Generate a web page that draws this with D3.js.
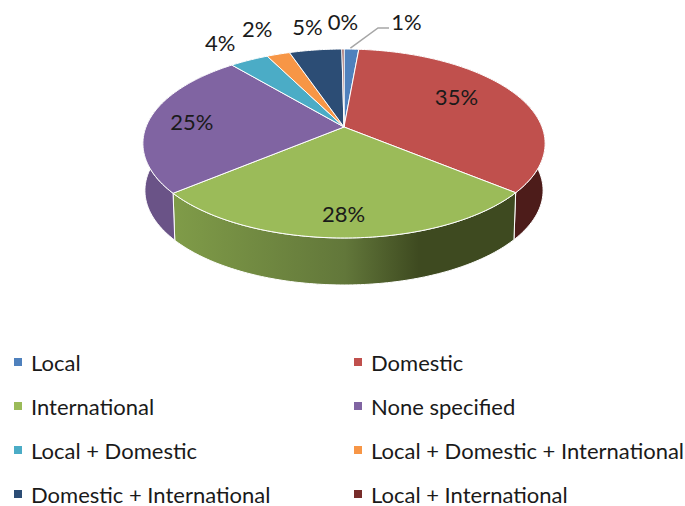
<!DOCTYPE html>
<html>
<head>
<meta charset="utf-8">
<script src="https://cdn.jsdelivr.net/npm/d3@7"></script>
<style>
  html, body { margin: 0; padding: 0; background: #fff; }
  text { font-family: Lato, "Open Sans", sans-serif; fill: #1a1a1a; }
</style>
</head>
<body>
<div id="chart"></div>
<script>
const categories = ['Local', 'Domestic', 'International', 'None specified', 'Local + Domestic', 'Local + Domestic + International', 'Domestic + International', 'Local + International'];
const shares = [1.4, 34.6, 27.9, 25.0, 3.7, 2.2, 5.0, 0.2];
const percentLabels = ['1%', '35%', '28%', '25%', '4%', '2%', '5%', '0%'];
const topColors = ['#4f81bd', '#c0504d', '#9bbb59', '#8064a2', '#4bacc6', '#f79646', '#2c4d75', '#772c2a'];
const sideColors = ['#3a5f8c', '#4d1c1a', 'url(#greenSide)', '#6a5387', '#38808f', '#b86f32', '#203a57', '#581f1e'];

const width = 685;
const height = 506;

// pie geometry, the tilt makes the centre sit above the middle of the ellipse
const centerX = 344;
const centerY = 127;
const radiusX = 198;
const radiusY = 91.6;
const tilt = 0.1746;
const depth = 47;
const lowerScale = 0.99;

// where each label goes, relative to its slice: [radial factor, dx, dy]
const labelPlacement = [[1, 55, -28], [0.66, -3, -8], [0.66, -1, 18], [0.75, -6, 0], [1, -29, -18], [1, -21, -26], [1, -8, -23], [1, 0, -28]];

const svg = d3.select('#chart')
  .append('svg')
  .attr('width', width)
  .attr('height', height);

const gradient = svg.append('defs')
  .append('linearGradient')
  .attr('id', 'greenSide')
  .attr('gradientUnits', 'userSpaceOnUse')
  .attr('x1', 177).attr('x2', 513)
  .attr('y1', 0).attr('y2', 0);
gradient.append('stop').attr('offset', '0%').attr('stop-color', '#7f9b48');
gradient.append('stop').attr('offset', '50%').attr('stop-color', '#62773a');
gradient.append('stop').attr('offset', '72%').attr('stop-color', '#3e4a20');
gradient.append('stop').attr('offset', '100%').attr('stop-color', '#3e4a20');

function project(angle, r = 1) {
  const u = Math.sin(angle) * r;
  const v = -Math.cos(angle) * r;
  const f = 1 / (1 - tilt * v);
  return [centerX + radiusX * u * f, centerY + radiusY * v * f];
}

function lower(p) {
  return [centerX + (p[0] - centerX) * lowerScale, p[1] + depth];
}

const pie = d3.pie().sort(null).value((d) => d);
const slices = pie(shares);
const line = d3.line();

function rim(d) {
  const n = Math.max(2, Math.ceil((d.endAngle - d.startAngle) * 60));
  return d3.range(n + 1).map((i) => project(d.startAngle + (d.endAngle - d.startAngle) * i / n));
}

svg.append('g')
  .selectAll('path')
  .data(slices)
  .enter()
  .append('path')
  .attr('d', (d) => {
    const top = rim(d);
    return line(top.concat(top.map(lower).reverse())) + 'Z';
  })
  .attr('fill', (d, i) => sideColors[i])
  .attr('stroke', '#fff')
  .attr('stroke-width', 1);

svg.append('g')
  .selectAll('path')
  .data(slices)
  .enter()
  .append('path')
  .attr('d', (d) => line([[centerX, centerY]].concat(rim(d))) + 'Z')
  .attr('fill', (d, i) => topColors[i])
  .attr('stroke', '#fff')
  .attr('stroke-width', 1);

// leader line for the 1% label
const localMid = project((slices[0].startAngle + slices[0].endAngle) / 2);
svg.append('path')
  .attr('d', line([[localMid[0] - 1, localMid[1] - 1], [378, 28], [389, 28]]))
  .attr('fill', 'none')
  .attr('stroke', '#a6a6a6')
  .attr('stroke-width', 1.5);

svg.append('g')
  .selectAll('text')
  .data(slices)
  .enter()
  .append('text')
  .attr('transform', (d, i) => {
    const [r, dx, dy] = labelPlacement[i];
    const p = project((d.startAngle + d.endAngle) / 2, r);
    return `translate(${p[0] + dx}, ${p[1] + dy})`;
  })
  .attr('text-anchor', 'middle')
  .attr('dominant-baseline', 'central')
  .attr('font-size', 22)
  .text((d, i) => percentLabels[i]);

const legendX = d3.scalePoint().domain([0, 1]).range([14, 354]);
const legendY = d3.scalePoint().domain([0, 1, 2, 3]).range([362, 494]);

const legendItem = svg.append('g')
  .selectAll('g')
  .data(categories)
  .enter()
  .append('g')
  .attr('transform', (d, i) => `translate(${legendX(i % 2)}, ${legendY(Math.floor(i / 2))})`);

legendItem.append('rect')
  .attr('y', -4)
  .attr('width', 8)
  .attr('height', 8)
  .attr('fill', (d, i) => topColors[i]);

legendItem.append('text')
  .attr('x', 17)
  .attr('dominant-baseline', 'central')
  .attr('font-size', 22)
  .text((d) => d);
</script>
</body>
</html>
